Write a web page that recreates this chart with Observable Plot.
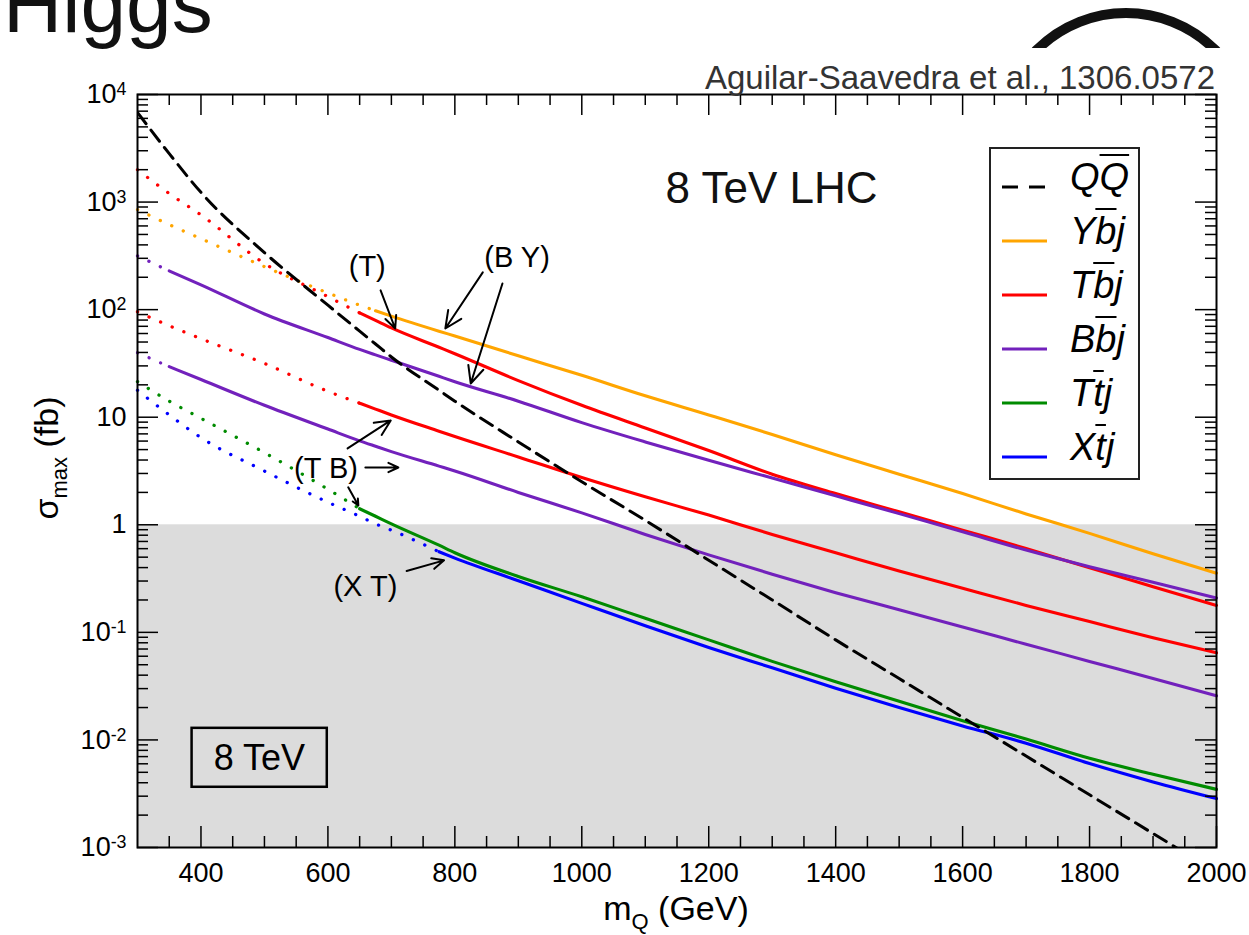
<!DOCTYPE html>
<html>
<head>
<meta charset="utf-8">
<script src="https://cdn.jsdelivr.net/npm/d3@7"></script>
<script src="https://cdn.jsdelivr.net/npm/@observablehq/plot@0.6"></script>
<style>
html, body { margin: 0; padding: 0; background: #fff; }
#page { position: relative; width: 1249px; height: 935px; overflow: hidden; font-family: "Liberation Sans", Arial, Helvetica, sans-serif; }
#chart { position: absolute; left: 0; top: 0; }
.ov { position: absolute; white-space: nowrap; }
.ob { text-decoration: overline; text-decoration-thickness: 2px; }
</style>
</head>
<body>
<div id="page"><div id="chart"></div></div>
<script>
// ---------------- data ----------------
const mQ = [300, 350, 400, 500, 600, 650, 675, 700, 775, 800, 900, 1000, 1100, 1200, 1300, 1400, 1500, 1600, 1700, 1800, 1900, 2000];

// sigma_max in fb
const sigmaQQ    = [6800, 2820, 1230, 339, 110, 63.1, 47.9, 36.3, 17.8, 14.1, 5.89, 2.51, 1.10, 0.468, 0.200, 0.0851, 0.0372, 0.0162, 0.00708, 0.00309, 0.00135, 0.000589];
const sigmaYbj   = [851, 617, 457, 251, 143, 110, 97.7, 87.1, 63.1, 56.9, 37.2, 24.5, 15.8, 10.5, 6.92, 4.47, 2.95, 1.95, 1.26, 0.832, 0.537, 0.355];
const sigmaTbjT  = [2000, 1200, 759, 269, 132, 93.3, 79.4, 67.6, 44.7, 38.9, 21.9, 12.9, 7.94, 4.90, 2.95, 1.95, 1.32, 0.891, 0.603, 0.398, 0.266, 0.178];
const sigmaBbjBY = [316, 229, 170, 91.2, 55.0, 42.7, 38.0, 33.9, 24.0, 21.4, 14.1, 8.91, 5.89, 3.98, 2.72, 1.86, 1.27, 0.861, 0.582, 0.407, 0.292, 0.209];
const sigmaTbjTB = [95.5, 70.8, 53.7, 31.6, 17.4, 13.5, 11.9, 10.5, 7.41, 6.61, 4.27, 2.75, 1.82, 1.23, 0.813, 0.550, 0.372, 0.257, 0.178, 0.126, 0.0891, 0.0646];
const sigmaBbjTB = [39.8, 29.5, 22.4, 12.9, 7.76, 6.03, 5.37, 4.79, 3.51, 3.16, 2.00, 1.29, 0.813, 0.525, 0.347, 0.234, 0.162, 0.112, 0.0776, 0.0537, 0.0372, 0.0257];
const sigmaTtj   = [21.4, 14.1, 9.77, 4.68, 2.14, 1.41, 1.20, 1.02, 0.646, 0.550, 0.331, 0.214, 0.135, 0.0851, 0.0537, 0.0347, 0.0229, 0.0151, 0.0102, 0.00676, 0.00479, 0.00347];
const sigmaXtj   = [17.8, 10.5, 6.46, 3.16, 1.62, 1.20, 1.02, 0.891, 0.562, 0.490, 0.302, 0.186, 0.115, 0.0724, 0.0468, 0.0302, 0.0200, 0.0135, 0.00933, 0.00603, 0.00407, 0.00285];

// curves drawn dotted below this mass, solid above
const seriesValues = [sigmaYbj, sigmaTbjT, sigmaBbjBY, sigmaTbjTB, sigmaBbjTB, sigmaTtj, sigmaXtj];
const seriesColors = ["#ffa500", "#ff0000", "#7221bc", "#ff0000", "#7221bc", "#008b00", "#0000ff"];
const solidFrom    = [675, 650, 350, 650, 350, 650, 775];

// axes
const xDomain = [300, 2000];
const yDomain = [1e-3, 1e4];
const xMajor = [400, 600, 800, 1000, 1200, 1400, 1600, 1800, 2000];
const xMinor = d3.range(350, 2000, 50).filter(v => v % 200 !== 0);
const yMajor = [1e-3, 1e-2, 1e-1, 1, 10, 1e2, 1e3, 1e4];
const yMinor = d3.range(-3, 4).flatMap(k => d3.range(2, 10).map(j => j * Math.pow(10, k)));
const yTickText = ["10^-3", "10^-2", "10^-1", "1", "10", "10^2", "10^3", "10^4"];

// shaded band (sigma < 1 fb)
const bandSigma = [1e-3, 1];

// annotations (data coordinates)
const annotText  = ["(T)", "(B Y)", "(T B)", "(X T)"];
const annotM     = [662, 898, 597, 659];
const annotSigma = [249, 307, 3.31, 0.265];
const arrowM1 = [683, 844, 875, 631, 659, 632, 724];
const arrowS1 = [151, 222, 175, 5.13, 3.41, 2.23, 0.372];
const arrowM2 = [706, 785, 825, 699, 711, 648, 783];
const arrowS2 = [66.8, 66.8, 20.6, 9.33, 3.41, 1.51, 0.467];
const lhcLabel = {text: "8 TeV LHC", m: 1299, s: 1324};
const boxLabel = {text: "8 TeV", m: 492, s: 0.00674, m1: 386, m2: 599, s1: 0.00363, s2: 0.01282};

// legend
const legendColors = ["#000000", "#ffa500", "#ff0000", "#7221bc", "#008b00", "#0000ff"];
const legendLabels = ['Q<span class="ob">Q</span>', 'Y<span class="ob">b</span>j', 'T<span class="ob">b</span>j', 'B<span class="ob">b</span>j', 'T<span class="ob">t</span>j', 'X<span class="ob">t</span>j'];

// ---------------- chart ----------------
const W = 1249, H = 935, mL = 137, mR = 33, mT = 94, mB = 88;
const plotW = W - mL - mR, plotH = H - mT - mB;
const FONT = '"Liberation Sans", Arial, Helvetica, sans-serif';

const curveMarks = seriesValues.flatMap((vals, i) => {
  const pts = mQ.map((m, j) => ({m, s: vals[j]}));
  return [
    Plot.line(pts.filter(d => d.m <= solidFrom[i]), {x: "m", y: "s", curve: "monotone-x", stroke: seriesColors[i], strokeWidth: 3.3, strokeDasharray: "0.1 12.5", strokeLinecap: "round"}),
    Plot.line(pts.filter(d => d.m >= solidFrom[i]), {x: "m", y: "s", curve: "monotone-x", stroke: seriesColors[i], strokeWidth: 3.1})
  ];
});

const qqPts = mQ.map((m, j) => ({m, s: sigmaQQ[j]}));
const arrows = arrowM1.map((m, i) => ({x1: m, y1: arrowS1[i], x2: arrowM2[i], y2: arrowS2[i]}));
const annots = annotText.map((t, i) => ({t, m: annotM[i], s: annotSigma[i]}));

const chart = Plot.plot({
  width: W, height: H,
  marginLeft: mL, marginRight: mR, marginTop: mT, marginBottom: mB,
  style: {fontFamily: FONT, fontSize: "27px", color: "#000", background: "#fff"},
  x: {domain: xDomain, ticks: xMajor, tickSize: 0, tickPadding: 15, tickFormat: d => String(d), label: null},
  y: {type: "log", domain: yDomain, ticks: yMajor, tickSize: 0, tickPadding: 11,
      tickFormat: d => yTickText[yMajor.findIndex(v => Math.abs(Math.log10(v) - Math.log10(d)) < 1e-6)], label: null},
  marks: [
    Plot.rect([{x1: xDomain[0], x2: xDomain[1], y1: bandSigma[0], y2: bandSigma[1]}], {x1: "x1", x2: "x2", y1: "y1", y2: "y2", fill: "#dcdcdc"}),
    Plot.rect([boxLabel], {x1: "m1", x2: "m2", y1: "s1", y2: "s2", fill: "none", stroke: "#000", strokeWidth: 2.5}),
    Plot.text([boxLabel], {x: "m", y: "s", text: "text", fontSize: 36, fill: "#000"}),
    ...curveMarks,
    Plot.line(qqPts, {x: "m", y: "s", curve: "monotone-x", stroke: "#000", strokeWidth: 3, strokeDasharray: "14 8", clip: true}),
    // ticks (inward)
    Plot.tickX(xMajor, {x: d => d, insetTop: plotH - 21, stroke: "#000", strokeWidth: 1.5}),
    Plot.tickX(xMajor, {x: d => d, insetBottom: plotH - 21, stroke: "#000", strokeWidth: 1.5}),
    Plot.tickX(xMinor, {x: d => d, insetTop: plotH - 11, stroke: "#000", strokeWidth: 1.5}),
    Plot.tickX(xMinor, {x: d => d, insetBottom: plotH - 11, stroke: "#000", strokeWidth: 1.5}),
    Plot.tickY(yMajor, {y: d => d, insetRight: plotW - 21, stroke: "#000", strokeWidth: 1.5}),
    Plot.tickY(yMajor, {y: d => d, insetLeft: plotW - 21, stroke: "#000", strokeWidth: 1.5}),
    Plot.tickY(yMinor, {y: d => d, insetRight: plotW - 11, stroke: "#000", strokeWidth: 1.5}),
    Plot.tickY(yMinor, {y: d => d, insetLeft: plotW - 11, stroke: "#000", strokeWidth: 1.5}),
    Plot.frame({stroke: "#000", strokeWidth: 2}),
    // annotations
    Plot.arrow(arrows, {x1: "x1", y1: "y1", x2: "x2", y2: "y2", stroke: "#000", strokeWidth: 2, headLength: 14, headAngle: 50}),
    Plot.text(annots, {x: "m", y: "s", text: "t", fontSize: 29, fill: "#000"}),
    Plot.text([lhcLabel], {x: "m", y: "s", text: "text", fontSize: 44, fill: "#111"})
  ]
});

document.getElementById("chart").appendChild(chart);
const svg = d3.select(chart);

// superscript tick labels on the y axis
svg.selectAll('g[aria-label^="y-axis"] text').each(function () {
  const t = this.textContent;
  if (t && t.includes("^")) {
    const [b, e] = t.split("^");
    const sel = d3.select(this);
    sel.text(null);
    sel.append("tspan").text(b);
    sel.append("tspan").attr("dy", "-0.45em").attr("font-size", "0.66em").text(e);
  }
});

// axis titles with subscripts
const xl = svg.append("text").attr("x", 676).attr("y", 920).attr("text-anchor", "middle")
  .attr("font-size", 34).attr("font-family", FONT).attr("fill", "#000");
xl.append("tspan").text("m");
xl.append("tspan").attr("dy", 9).attr("font-size", 22).text("Q");
xl.append("tspan").attr("dy", -9).text(" (GeV)");

const yl = svg.append("text").attr("transform", "translate(58,458) rotate(-90)").attr("text-anchor", "middle")
  .attr("font-size", 34).attr("font-family", FONT).attr("fill", "#000");
yl.append("tspan").text("σ");
yl.append("tspan").attr("dy", 9).attr("font-size", 22).text("max");
yl.append("tspan").attr("dy", -9).text(" (fb)");

// ---------------- overlays ----------------
const page = document.getElementById("page");

// slide fragments: "Higgs" title and logo arc
const higgs = document.createElement("div");
higgs.className = "ov";
higgs.style.cssText = "left:3px;top:-37px;font-size:82px;line-height:82px;font-weight:300;color:#111;";
higgs.textContent = "Higgs";
page.appendChild(higgs);

const arcHolder = document.createElement("div");
arcHolder.className = "ov";
arcHolder.style.cssText = "left:0;top:0;width:1249px;height:48px;overflow:hidden;";
arcHolder.innerHTML = '<svg width="1249" height="48"><circle cx="1126" cy="139" r="126" fill="none" stroke="#111" stroke-width="10"/></svg>';
page.appendChild(arcHolder);

const cite = document.createElement("div");
cite.className = "ov";
cite.style.cssText = "right:34px;top:61px;font-size:33px;line-height:33px;color:#333;";
cite.textContent = "Aguilar-Saavedra et al., 1306.0572";
page.appendChild(cite);

// legend box
const lg = document.createElement("div");
lg.className = "ov";
lg.style.cssText = "left:989px;top:147px;width:151px;height:333px;border:2px solid #222;background:#fff;box-sizing:border-box;";
page.appendChild(lg);
legendLabels.forEach((lab, i) => {
  const cy = 177 + i * 54 - 147 - 2; // row centre inside the box
  const sample = document.createElement("div");
  sample.className = "ov";
  sample.style.cssText = `left:11px;top:${cy - 2}px;width:45px;height:4px;`;
  sample.innerHTML = i === 0
    ? `<svg width="45" height="4"><line x1="0" y1="2" x2="45" y2="2" stroke="${legendColors[i]}" stroke-width="3.2" stroke-dasharray="16 11"/></svg>`
    : `<svg width="45" height="4"><line x1="0" y1="2" x2="45" y2="2" stroke="${legendColors[i]}" stroke-width="3.2"/></svg>`;
  lg.appendChild(sample);
  const t = document.createElement("div");
  t.className = "ov";
  t.style.cssText = `left:79px;top:${cy + 13 - 32}px;font-size:38px;line-height:38px;font-style:italic;color:#000;`;
  t.innerHTML = lab;
  lg.appendChild(t);
});
</script>
</body>
</html>
